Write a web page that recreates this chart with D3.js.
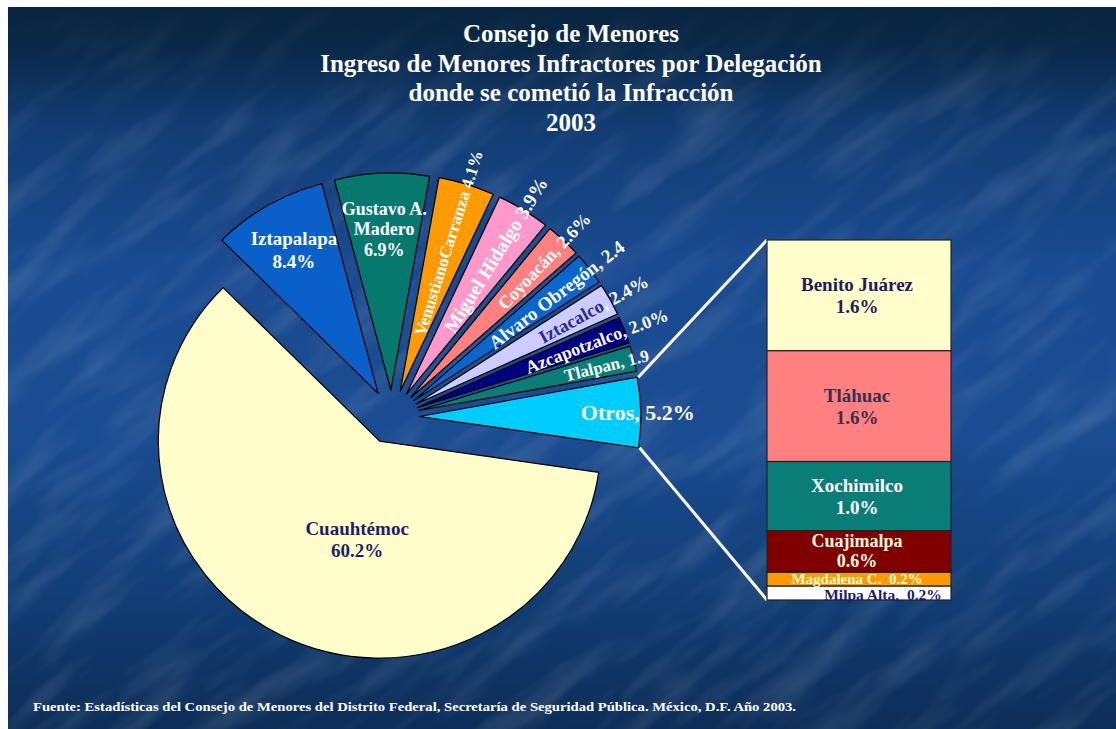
<!DOCTYPE html>
<html><head><meta charset="utf-8">
<script src="https://cdn.jsdelivr.net/npm/d3@7"></script>
<style>
html,body{margin:0;padding:0;background:#fff;}
svg{display:block;}
text{font-family:"Liberation Serif","Times New Roman",serif;font-weight:bold;white-space:pre;}
</style></head><body>
<svg id="chart" width="1116" height="729"></svg>
<script>
/* Data */
const titleLines=["Consejo de Menores","Ingreso de Menores Infractores por Delegación","donde se cometió la Infracción","2003"];
const sourceText="Fuente: Estadísticas del Consejo de Menores del Distrito Federal, Secretaría de Seguridad Pública. México, D.F. Año 2003.";

const delegaciones=["Iztapalapa","Gustavo A. Madero","Venustiano Carranza","Miguel Hidalgo","Coyoacán","Alvaro Obregón","Iztacalco","Azcapotzalco","Tlalpan","Otros","Cuauhtémoc"];
const porcentajes=[8.4,6.9,4.1,3.9,2.6,2.4,2.4,2.0,1.9,5.2,60.2];
const pieLabels=[["Iztapalapa","8.4%"],["Gustavo A.","Madero","6.9%"],["VenustianoCarranza 4.1%"],["Miguel Hidalgo 3.9%"],["Coyoacán, 2.6%"],["Alvaro Obregón, 2.4"],["Iztacalco",", 2.4%"],["Azcapotzalco, 2.0%"],["Tlalpan, 1.9"],["Otros, 5.2%"],["Cuauhtémoc","60.2%"]];

const otrosNombres=["Benito Juárez","Tláhuac","Xochimilco","Cuajimalpa","Magdalena C.","Milpa Alta"];
const otrosPct=[1.6,1.6,1.0,0.6,0.2,0.2];
const otrosLabels=[["Benito Juárez","1.6%"],["Tláhuac","1.6%"],["Xochimilco","1.0%"],["Cuajimalpa","0.6%"],["Magdalena C.  0.2%"],["Milpa Alta,  0.2%"]];

/* Styles / layout */
const sliceColors=["#0a60c8","#07786e","#ff9a00","#ff99cc","#ff8080","#0a66cc","#ccccff","#000080","#0a7e76","#00ccff","#ffffcc"];
const barColors=["#ffffcc","#ff8080","#0a7e76","#800000","#ff9900","#ffffff"];
const barTextColors=["#1c1c5e","#3a2f4f","#ffffff","#ffffe0","#ffffcc","#1c1c6e"];
// per slice: h = horizontal stacked lines, r = radial rotated text (anchored at its end); da = angle tweak in degrees
const labelLayout=[
  {mode:"h",r:166,size:19,lh:23,colors:["#fff"]},
  {mode:"h",r:161,size:18,lh:20.5,colors:["#fff"]},
  {mode:"r",r:252,size:17,colors:["#fff"]},
  {mode:"r",r:253,size:19.5,colors:["#fff"]},
  {mode:"r",r:251,size:18,colors:["#fff"]},
  {mode:"r",r:257,size:19,colors:["#fff"]},
  {mode:"r",r:258,size:18.5,colors:["#2b2b8c","#fff"]},
  {mode:"r",r:262,size:18,colors:["#fff"]},
  {mode:"r",r:232,size:17,colors:["#fff"]},
  {mode:"h",r:214,size:22,lh:0,colors:["#fff"]},
  {mode:"h",r:101,da:-14,size:19,lh:22,colors:["#1e1e6a"]}
];
const C={x:392,y:417}, R=217, EXPLODE=27, SX=1.02;
const deg=Math.PI/180;

const svg=d3.select("#chart");
const defs=svg.append("defs");

/* Background */
const grad=defs.append("linearGradient").attr("id","bg").attr("x1",0).attr("y1",0).attr("x2",0).attr("y2",1);
[[0,"#0a2947"],[0.12,"#10386a"],[0.35,"#1a4b90"],[0.6,"#1a4c91"],[0.82,"#123d74"],[1,"#0c2d57"]]
  .forEach(([o,c])=>grad.append("stop").attr("offset",o).attr("stop-color",c));
const tex=defs.append("filter").attr("id","tex").attr("x",0).attr("y",0).attr("width",1).attr("height",1);
tex.append("feTurbulence").attr("type","fractalNoise").attr("baseFrequency","0.008 0.035").attr("numOctaves",3).attr("seed",11);
tex.append("feColorMatrix").attr("type","matrix").attr("values","0 0 0 0 1  0 0 0 0 1  0 0 0 0 1  0.8 0 0 0 -0.36");
defs.append("clipPath").attr("id","frame").append("rect").attr("x",8).attr("y",7).attr("width",1108).attr("height",722);

svg.append("rect").attr("x",8).attr("y",7).attr("width",1108).attr("height",722).attr("fill","url(#bg)");
svg.append("g").attr("clip-path","url(#frame)")
  .append("rect").attr("x",-300).attr("y",-300).attr("width",1700).attr("height",1300)
  .attr("filter","url(#tex)").attr("opacity",0.35).attr("transform","rotate(-38,560,365)");
// darker top band like the slide
const topGrad=defs.append("linearGradient").attr("id","topShade").attr("x1",0).attr("y1",0).attr("x2",0).attr("y2",1);
topGrad.append("stop").attr("offset",0).attr("stop-color","#082440").attr("stop-opacity",0.9);
topGrad.append("stop").attr("offset",1).attr("stop-color","#082440").attr("stop-opacity",0);
svg.append("rect").attr("x",8).attr("y",7).attr("width",1108).attr("height",110).attr("fill","url(#topShade)");

/* Title */
svg.append("g").selectAll("text").data(titleLines).join("text")
  .attr("x",571).attr("y",(d,i)=>42+i*29.5)
  .attr("text-anchor","middle").attr("fill","#fff").attr("font-size",25).text(d=>d);

/* Pie */
const pie=d3.pie().sort(null).value(d=>d).startAngle(-45*deg).endAngle(315*deg);
const arcs=pie(porcentajes);
const arc=d3.arc().innerRadius(0).outerRadius(R);
const mid=a=>(a.startAngle+a.endAngle)/2;
const off=a=>[EXPLODE*Math.sin(mid(a)),-EXPLODE*Math.cos(mid(a))];
const toScreen=([x,y])=>[C.x+SX*x,C.y+y];

const gp=svg.append("g").attr("transform",`translate(${C.x},${C.y}) scale(${SX},1)`);
gp.selectAll("path").data(arcs).join("path")
  .attr("transform",d=>`translate(${off(d)[0]},${off(d)[1]})`)
  .attr("d",arc).attr("fill",(d,i)=>sliceColors[i])
  .attr("stroke","#000").attr("stroke-width",1.2).attr("stroke-linejoin","round");

const gl=svg.append("g");
arcs.forEach((a,i)=>{
  const L=labelLayout[i], lines=pieLabels[i], o=off(a);
  const m=mid(a)+(L.da||0)*deg;
  const p=toScreen([o[0]+L.r*Math.sin(m),o[1]-L.r*Math.cos(m)]);
  if(L.mode==="h"){
    const y0=p[1]-(lines.length-1)*L.lh/2;
    lines.forEach((s,j)=>{
      gl.append("text").attr("x",p[0]).attr("y",y0+j*L.lh).attr("dy","0.35em")
        .attr("text-anchor","middle").attr("font-size",L.size).attr("fill",L.colors[0]).text(s);
    });
  }else{
    const t=gl.append("text").attr("transform",`translate(${p[0]},${p[1]}) rotate(${m/deg-90})`)
      .attr("dy","0.35em").attr("text-anchor","end").attr("font-size",L.size);
    lines.forEach((s,j)=>t.append("tspan").attr("fill",L.colors[j]||L.colors[0]).text(s));
  }
});

/* Breakdown of "Otros" */
const bar={x:767,w:184,top:240,bottom:600};
const y=d3.scaleLinear().domain([0,d3.sum(otrosPct)]).range([bar.top,bar.bottom]);
const cum=d3.cumsum(otrosPct);
const segs=otrosPct.map((v,i)=>({v,i,y0:y(cum[i]-v),y1:y(cum[i])}));

// connector lines from the "Otros" slice edges
const otrosArc=arcs[delegaciones.indexOf("Otros")];
const oo=off(otrosArc);
const edge=ang=>toScreen([oo[0]+R*Math.sin(ang),oo[1]-R*Math.cos(ang)]);
const pStart=edge(otrosArc.startAngle), pEnd=edge(otrosArc.endAngle);
svg.append("line").attr("x1",pStart[0]+1).attr("y1",pStart[1]).attr("x2",bar.x).attr("y2",bar.top)
  .attr("stroke","#fff").attr("stroke-width",3);
svg.append("line").attr("x1",pEnd[0]+1).attr("y1",pEnd[1]).attr("x2",bar.x).attr("y2",bar.bottom)
  .attr("stroke","#fff").attr("stroke-width",3);

const gb=svg.append("g");
gb.selectAll("rect").data(segs).join("rect")
  .attr("x",bar.x).attr("width",bar.w).attr("y",d=>d.y0).attr("height",d=>d.y1-d.y0)
  .attr("fill",d=>barColors[d.i]).attr("stroke","#222").attr("stroke-width",1.2);

const barLabelSize=[19,19,19,18,15,15.5];
const barLineH=[22,22,22,20,0,0];
const barShift=[0,0,0,-0.5,-0.5,1.5];
segs.forEach(s=>{
  const lines=otrosLabels[s.i];
  const cy=(s.y0+s.y1)/2+barShift[s.i], lh=barLineH[s.i];
  const cx=s.i===5?bar.x+bar.w/2+24:bar.x+bar.w/2-2;
  lines.forEach((t,j)=>{
    gb.append("text").attr("x",cx).attr("y",cy+(j-(lines.length-1)/2)*lh)
      .attr("dy","0.35em").attr("text-anchor","middle").attr("font-size",barLabelSize[s.i])
      .attr("fill",barTextColors[s.i]).text(t);
  });
});

/* Source */
svg.append("text").attr("x",33).attr("y",711).attr("font-size",12.5).attr("fill","#fff")
  .attr("textLength",763).attr("lengthAdjust","spacingAndGlyphs").text(sourceText);
</script>
</body></html>
